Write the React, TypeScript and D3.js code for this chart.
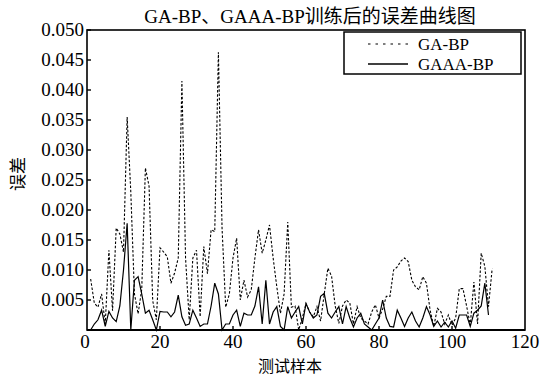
import React from "react";
import * as d3 from "d3";

const gaBp: number[] = [
  0.0085, 0.0045, 0.0038, 0.006, 0.001, 0.0133, 0.0032, 0.017, 0.016, 0.013,
  0.0355, 0.023, 0.006, 0.0027, 0.0068, 0.027, 0.024, 0.0049, 0.0017, 0.0137,
  0.013, 0.0122, 0.0078, 0.0095, 0.012, 0.0415, 0.012, 0.0017, 0.012, 0.0133,
  0.0022, 0.0139, 0.0094, 0.0167, 0.0164, 0.0463, 0.017, 0.0038, 0.006, 0.012,
  0.0153, 0.005, 0.0083, 0.0055, 0.0067, 0.012, 0.0167, 0.0128, 0.015, 0.0175,
  0.012, 0.0072, 0.0028, 0.006, 0.018, 0.0038, 0.004, 0.0, 0.002, 0.0044,
  0.003, 0.0022, 0.0039, 0.0015, 0.006, 0.0103, 0.009, 0.004, 0.0011, 0.004,
  0.005, 0.0045, 0.001, 0.0039, 0.002, 0.0015, 0.001, 0.003, 0.0042, 0.002,
  0.0035, 0.0056, 0.0056, 0.01, 0.0105, 0.0115, 0.012, 0.0114, 0.0083, 0.0072,
  0.0067, 0.0089, 0.0078, 0.0033, 0.0006, 0.0036, 0.003, 0.001, 0.0025, 0.0008,
  0.002, 0.0069, 0.0069, 0.004, 0.0008, 0.008, 0.001, 0.0128, 0.0106, 0.0039,
  0.0102,
];

const gaaaBp: number[] = [
  0.0, 0.001, 0.0017, 0.0033, 0.0006, 0.0031, 0.002, 0.0014, 0.004, 0.01,
  0.0178, 0.0, 0.0083, 0.0089, 0.006, 0.0028, 0.0033, 0.0017, 0.0, 0.0031,
  0.003, 0.003, 0.0022, 0.003, 0.0058, 0.0022, 0.0008, 0.001, 0.0033, 0.002,
  0.0006, 0.001, 0.001, 0.004, 0.0078, 0.006, 0.0, 0.001, 0.001, 0.0025,
  0.0033, 0.0006, 0.0028, 0.0025, 0.0025, 0.004, 0.0072, 0.001, 0.0083, 0.001,
  0.003, 0.0039, 0.0006, 0.0, 0.0039, 0.002, 0.003, 0.0039, 0.001, 0.0044,
  0.003, 0.002, 0.0025, 0.0056, 0.0061, 0.0028, 0.002, 0.003, 0.0039, 0.001,
  0.0039, 0.002, 0.0005, 0.002, 0.0028, 0.001, 0.0005, 0.0, 0.001, 0.002,
  0.005, 0.002, 0.0006, 0.0005, 0.0033, 0.002, 0.0006, 0.002, 0.003, 0.0015,
  0.0005, 0.002, 0.0039, 0.0025, 0.0006, 0.0015, 0.0005, 0.0013, 0.0005, 0.0015,
  0.0003, 0.0025, 0.0025, 0.0025, 0.0006, 0.0028, 0.0033, 0.004, 0.0078, 0.0025,
];

const xTicks: number[] = [0, 20, 40, 60, 80, 100, 120];
const yTicks: number[] = [0.005, 0.01, 0.015, 0.02, 0.025, 0.03, 0.035, 0.04, 0.045, 0.05];
const xLabel = "测试样本";
const yLabel = "误差";
const seriesNames = ["GA-BP", "GAAA-BP"];

const W = 541;
const H = 376;
const L = 87, R = 525, T = 30, B = 330;
const serif = "\"Liberation Serif\", \"DejaVu Serif\", \"Times New Roman\", Times, serif";
const cjk = "\"Noto Sans CJK SC\", sans-serif";
const serifStyle = { fontFamily: serif };
const cjkStyle = { fontFamily: cjk };

export default function App() {
  const x = d3.scaleLinear().domain([0, 120]).range([L, R]);
  const y = d3.scaleLinear().domain([0, 0.05]).range([B, T]);
  const line = d3
    .line<number>()
    .x((_, i) => x(i + 1))
    .y((d) => y(d));

  return (
    <svg
      width={W}
      height={H}
      style={{ position: "absolute", left: 0, top: 0, background: "#fff" }}
    >
      <rect x={0} y={0} width={W} height={H} fill="#fff" />
      <text x={310} y={23} textAnchor="middle" fontSize={19} fill="#000" style={serifStyle}>
        <tspan style={serifStyle}>GA-BP</tspan>
        <tspan style={cjkStyle}>、</tspan>
        <tspan style={serifStyle}>GAAA-BP</tspan>
        <tspan style={cjkStyle}>训练后的误差曲线图</tspan>
      </text>

      <path d={line(gaBp) || ""} fill="none" stroke="#000" strokeWidth={1.1} strokeDasharray="2.5,1.8" />
      <path d={line(gaaaBp) || ""} fill="none" stroke="#000" strokeWidth={1.2} />

      <rect x={L} y={T} width={R - L} height={B - T} fill="none" stroke="#000" strokeWidth={1.6} />
      <line x1={L} x2={R} y1={B} y2={B} stroke="#000" strokeWidth={2.2} />

      {yTicks.map((t) => (
        <g key={"y" + t}>
          <line x1={L} x2={L + 4} y1={y(t)} y2={y(t)} stroke="#000" strokeWidth={1.4} />
          <text x={L - 3} y={y(t) + 6} textAnchor="end" fontSize={19} fill="#000" style={serifStyle}>
            {t.toFixed(3)}
          </text>
        </g>
      ))}
      {xTicks.map((t) => (
        <g key={"x" + t}>
          {t > 0 && t < 120 && (
            <line x1={x(t)} x2={x(t)} y1={B} y2={B - 4} stroke="#000" strokeWidth={1.4} />
          )}
          <text
            x={x(t) - (t === 0 ? 2 : 0)}
            y={348}
            textAnchor="middle"
            fontSize={19}
            fill="#000"
            style={serifStyle}
          >
            {t}
          </text>
        </g>
      ))}

      <text x={290} y={372} textAnchor="middle" fontSize={16} fill="#000" style={cjkStyle}>
        {xLabel}
      </text>
      <text
        transform="translate(24,174) rotate(-90)"
        textAnchor="middle"
        fontSize={17}
        fill="#000"
        style={cjkStyle}
      >
        {yLabel}
      </text>

      <rect x={344} y={32} width={177} height={42} fill="#fff" stroke="#000" strokeWidth={1.5} />
      <line x1={368} x2={408} y1={44} y2={44} stroke="#000" strokeWidth={1.2} strokeDasharray="2.5,5" />
      <line x1={368} x2={408} y1={64} y2={64} stroke="#000" strokeWidth={1.6} />
      <text x={418} y={50} fontSize={17} fill="#000" style={serifStyle}>
        {seriesNames[0]}
      </text>
      <text x={418} y={70} fontSize={17} fill="#000" style={serifStyle}>
        {seriesNames[1]}
      </text>
    </svg>
  );
}
